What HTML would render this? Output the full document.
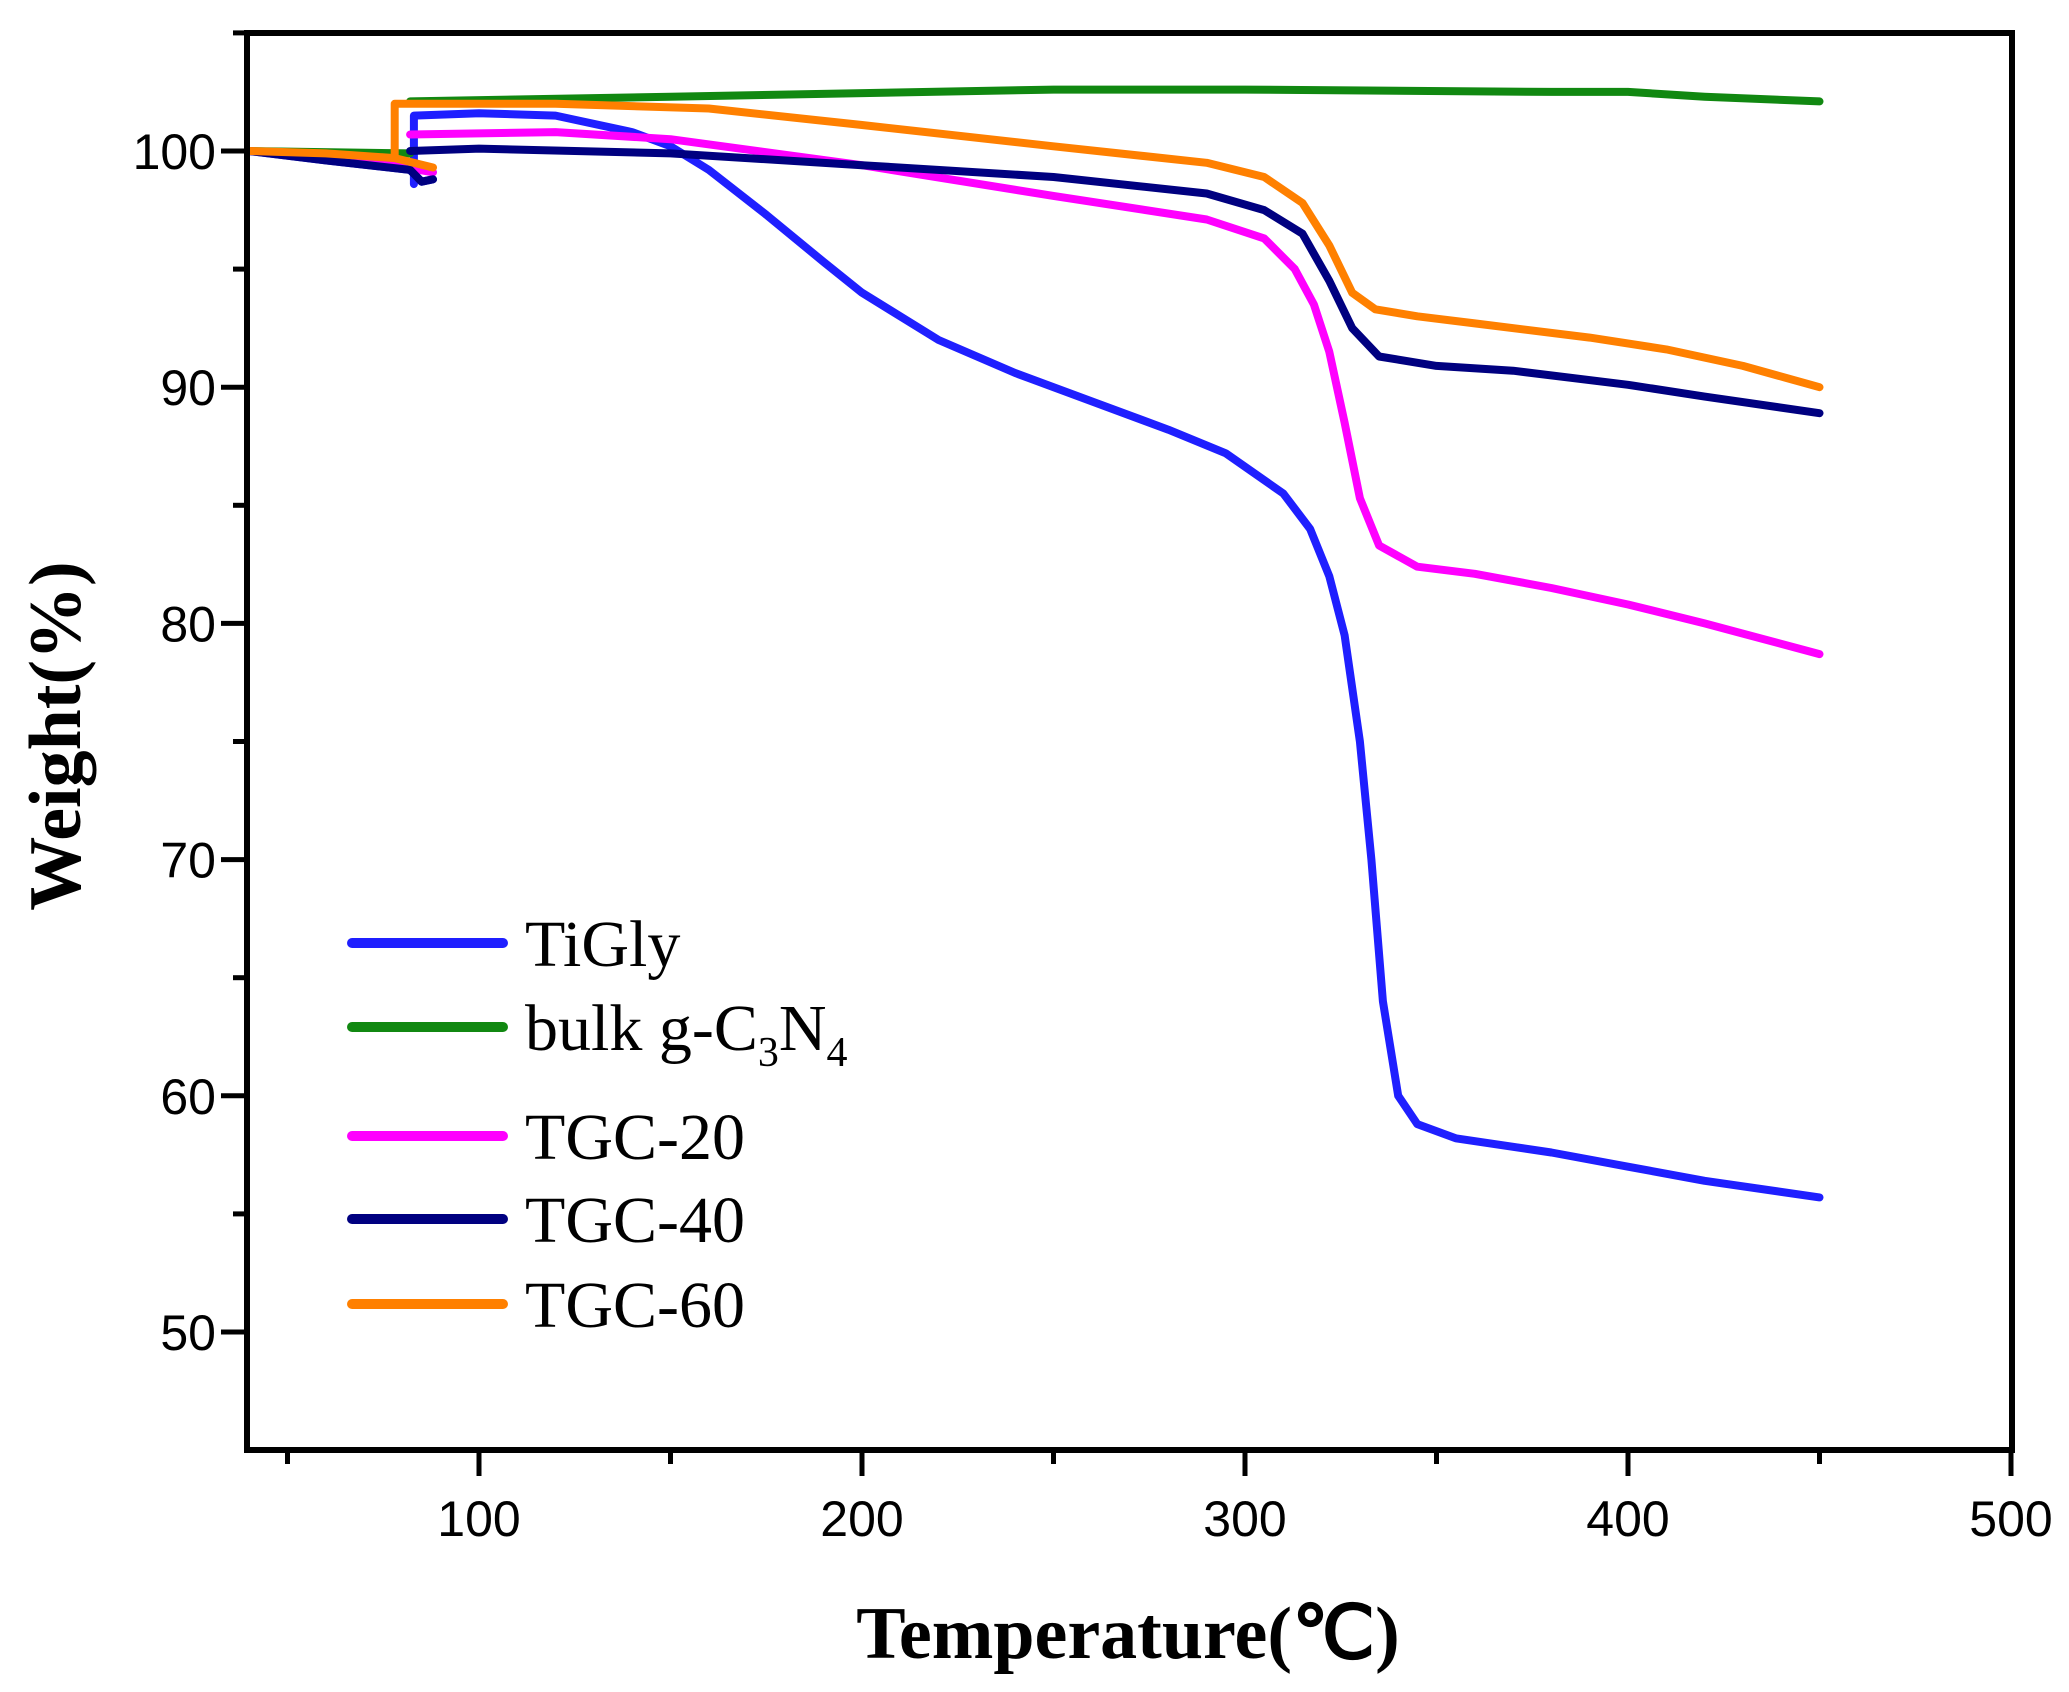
<!DOCTYPE html>
<html><head><meta charset="utf-8"><style>
html,body{margin:0;padding:0;background:#fff;}
svg{display:block;}
</style></head><body>
<svg id="s" width="2069" height="1692" xmlns="http://www.w3.org/2000/svg">
<rect width="2069" height="1692" fill="#fff"/>
<g id="curves" fill="none" stroke-width="8" stroke-linejoin="round" stroke-linecap="round"></g>
<rect x="247" y="33" width="1765" height="1417" fill="none" stroke="#000" stroke-width="6"/>
<g id="ticks" stroke="#000" stroke-width="5"></g>
<g font-family="Liberation Sans, Arial, sans-serif" font-size="50" fill="#000" id="lbl"></g>
<text x="1128" y="1658" font-family="Liberation Serif, serif" font-weight="bold" font-size="74" text-anchor="middle">Temperature(℃)</text>
<text transform="translate(80,736) rotate(-90)" font-family="Liberation Serif, serif" font-weight="bold" font-size="74" text-anchor="middle">Weight(%)</text>
<g font-family="Liberation Serif, serif" font-size="66" fill="#000" stroke-linecap="round">
<line x1="352" y1="943" x2="503" y2="943" stroke="#1f1fff" stroke-width="10"/><text x="525" y="966">TiGly</text>
<line x1="352" y1="1027" x2="503" y2="1027" stroke="#118811" stroke-width="10"/><text x="525" y="1050">bulk g-C<tspan font-size="42" dy="16">3</tspan><tspan dy="-16">N</tspan><tspan font-size="42" dy="16">4</tspan></text>
<line x1="352" y1="1136" x2="503" y2="1136" stroke="#ff00ff" stroke-width="10"/><text x="525" y="1159">TGC-20</text>
<line x1="352" y1="1219" x2="503" y2="1219" stroke="#000080" stroke-width="10"/><text x="525" y="1242">TGC-40</text>
<line x1="352" y1="1304" x2="503" y2="1304" stroke="#ff8000" stroke-width="10"/><text x="525" y="1327">TGC-60</text>
</g>
</svg>
<script>
const X=t=>479+(t-100)*3.83, Y=w=>151+(100-w)*23.62;
const ns="http://www.w3.org/2000/svg";
const tk=document.getElementById('ticks'), lb=document.getElementById('lbl');
function L(x1,y1,x2,y2){const l=document.createElementNS(ns,'line');l.setAttribute('x1',x1);l.setAttribute('y1',y1);l.setAttribute('x2',x2);l.setAttribute('y2',y2);tk.appendChild(l);}
function T(x,y,s,a){const t=document.createElementNS(ns,'text');t.setAttribute('x',x);t.setAttribute('y',y);t.setAttribute('text-anchor',a);t.textContent=s;lb.appendChild(t);}
for(let t=50;t<=500;t+=50){const x=X(t);const maj=t%100==0;L(x,1450,x,1450+(maj?26:14));if(maj)T(x,1536,t,'middle');}
for(let w=50;w<=105;w+=5){const y=Y(w);const maj=w%10==0;L(247,y,247-(maj?26:14),y);if(maj)T(216,y+18,w,'end');}
const S=[
["#1f1fff",[[[40,100],[60,99.6],[82,99.2],[85,98.7],[88,98.8]],[[83,98.6],[83,101.5],[100,101.6],[120,101.5],[140,100.8],[150,100.2],[160,99.2],[175,97.3],[190,95.3],[200,94],[220,92],[240,90.6],[260,89.4],[280,88.2],[295,87.2],[310,85.5],[317,84],[322,82],[326,79.5],[330,75],[333,70],[336,64],[340,60],[345,58.8],[355,58.2],[380,57.6],[400,57],[420,56.4],[450,55.7]]]],
["#118811",[[[40,100],[82,99.9]],[[82,102.1],[150,102.3],[250,102.6],[300,102.6],[380,102.5],[400,102.5],[420,102.3],[450,102.1]]]],
["#ff00ff",[[[40,100],[70,99.6],[88,99.1]],[[82,100.7],[120,100.8],[150,100.5],[200,99.4],[250,98.1],[290,97.1],[305,96.3],[313,95],[318,93.5],[322,91.5],[326,88.5],[330,85.3],[335,83.3],[345,82.4],[360,82.1],[380,81.5],[400,80.8],[420,80],[450,78.7]]]],
["#000080",[[[40,100],[60,99.6],[82,99.2],[85,98.7],[88,98.8]],[[82,100],[100,100.1],[150,99.9],[200,99.4],[250,98.9],[290,98.2],[305,97.5],[315,96.5],[322,94.5],[328,92.5],[335,91.3],[350,90.9],[370,90.7],[400,90.1],[420,89.6],[450,88.9]]]],
["#ff8000",[[[40,100],[60,99.9],[78,99.7],[88,99.3]],[[78,99.7],[78,102],[120,102],[160,101.8],[200,101.1],[250,100.2],[290,99.5],[305,98.9],[315,97.8],[322,96],[328,94],[334,93.3],[345,93],[360,92.7],[390,92.1],[410,91.6],[430,90.9],[450,90]]]]
];
const g=document.getElementById('curves');
for(const [c,segs] of S){let d="";for(const seg of segs){d+=seg.map((p,i)=>(i?"L":"M")+X(p[0]).toFixed(1)+" "+Y(p[1]).toFixed(1)).join(" ")+" ";}
const p=document.createElementNS(ns,'path');p.setAttribute('d',d);p.setAttribute('stroke',c);g.appendChild(p);}
</script>
</body></html>
